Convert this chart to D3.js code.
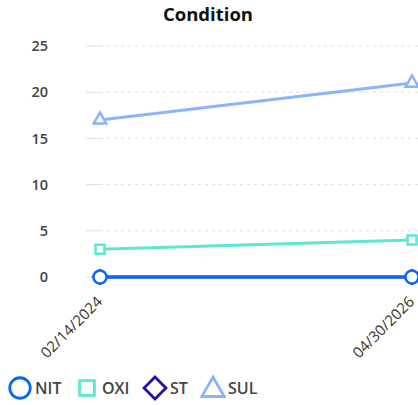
<!DOCTYPE html>
<html><head><meta charset="utf-8">
<script src="https://cdn.jsdelivr.net/npm/d3@7"></script>
<style>body{margin:0;background:#fff}svg{display:block;font-family:"Open Sans",sans-serif}</style>
</head><body><svg id="c" width="418" height="405"></svg>
<script>
const categories = ["02/14/2024", "04/30/2026"];
const seriesNames = ["NIT", "OXI", "ST", "SUL"];
const NIT = [0, 0];
const OXI = [3, 4];
const ST = [0, 0];
const SUL = [17, 21];
const yTicks = [0, 5, 10, 15, 20, 25];
const colors = {NIT: "#0a66ff", OXI: "#5ae8d4", ST: "#2a0ea8", SUL: "#8ab4ff"};
const values = {NIT, OXI, ST, SUL};

const diamond = {draw(ctx, size) { const r = Math.sqrt(size / 2); ctx.moveTo(0, -r); ctx.lineTo(r, 0); ctx.lineTo(0, r); ctx.lineTo(-r, 0); ctx.closePath(); }};
const shapes = {NIT: d3.symbolCircle, OXI: d3.symbolSquare, ST: diamond, SUL: d3.symbolTriangle};

const svg = d3.select("#c");
const x = d3.scalePoint().domain(categories).range([100, 412]);
const y = d3.scaleLinear().domain([0, 25]).range([277, 46]);

svg.append("text").attr("x", 208).attr("y", 21).attr("text-anchor", "middle")
  .attr("font-size", 18.5).attr("font-weight", 700).attr("fill", "#111").text("Condition");

const grid = svg.append("g");
yTicks.forEach(t => {
  grid.append("line").attr("x1", 86).attr("x2", 100).attr("y1", y(t)).attr("y2", y(t))
    .attr("stroke", "#ddd").attr("stroke-width", 1);
  grid.append("line").attr("x1", 100).attr("x2", 418).attr("y1", y(t)).attr("y2", y(t))
    .attr("stroke", "#ddd").attr("stroke-width", 1).attr("stroke-dasharray", "3,4");
});

const yAxis = svg.append("g").attr("transform", "translate(48,0)")
  .call(d3.axisLeft(y).tickValues(yTicks).tickSize(0).tickPadding(0));
yAxis.select(".domain").remove();
yAxis.selectAll("text").attr("font-size", 14.5).attr("font-weight", 600).attr("fill", "#444")
  .attr("font-family", "Open Sans, sans-serif");

const xAxis = svg.append("g").attr("transform", "translate(0,285)")
  .call(d3.axisBottom(x).tickSize(0).tickPadding(0));
xAxis.select(".domain").remove();
xAxis.selectAll("text").attr("font-size", 15).attr("font-weight", 400).attr("fill", "#333")
  .attr("font-family", "Open Sans, sans-serif")
  .attr("text-anchor", "end").attr("x", 0).attr("y", 0).attr("dy", "0.35em")
  .attr("transform", "translate(-1,14) rotate(-45)");

const drawOrder = ["ST", "SUL", "OXI", "NIT"];
const markerSizes = {NIT: 135, OXI: 81, ST: 90, SUL: 70};
const line = d3.line().x((d, i) => x(categories[i])).y(d => y(d));
drawOrder.forEach(name => {
  const g = svg.append("g");
  g.append("path").datum(values[name]).attr("d", line).attr("fill", "none")
    .attr("stroke", colors[name]).attr("stroke-width", 3);
  g.selectAll("path.m").data(values[name]).join("path").attr("class", "m")
    .attr("d", d3.symbol().type(shapes[name]).size(markerSizes[name]))
    .attr("transform", (d, i) => `translate(${x(categories[i])},${y(d)})`)
    .attr("fill", "#fff").attr("stroke", colors[name]).attr("stroke-width", 2.5);
});

const legend = svg.append("g").attr("transform", "translate(0,388)");
const legX = [20, 87, 155, 213];
const legSizes = {NIT: 330, OXI: 220, ST: 240, SUL: 220};
seriesNames.forEach((name, i) => {
  legend.append("path").attr("d", d3.symbol().type(shapes[name]).size(legSizes[name]))
    .attr("transform", `translate(${legX[i]},${name === "SUL" ? 2 : 0})`)
    .attr("fill", "#fff").attr("stroke", colors[name]).attr("stroke-width", 2.8);
  legend.append("text").attr("x", legX[i] + 15).attr("y", 0).attr("dy", "0.35em")
    .attr("font-size", 16).attr("font-weight", 600).attr("fill", "#444").text(name);
});
</script></body></html>
